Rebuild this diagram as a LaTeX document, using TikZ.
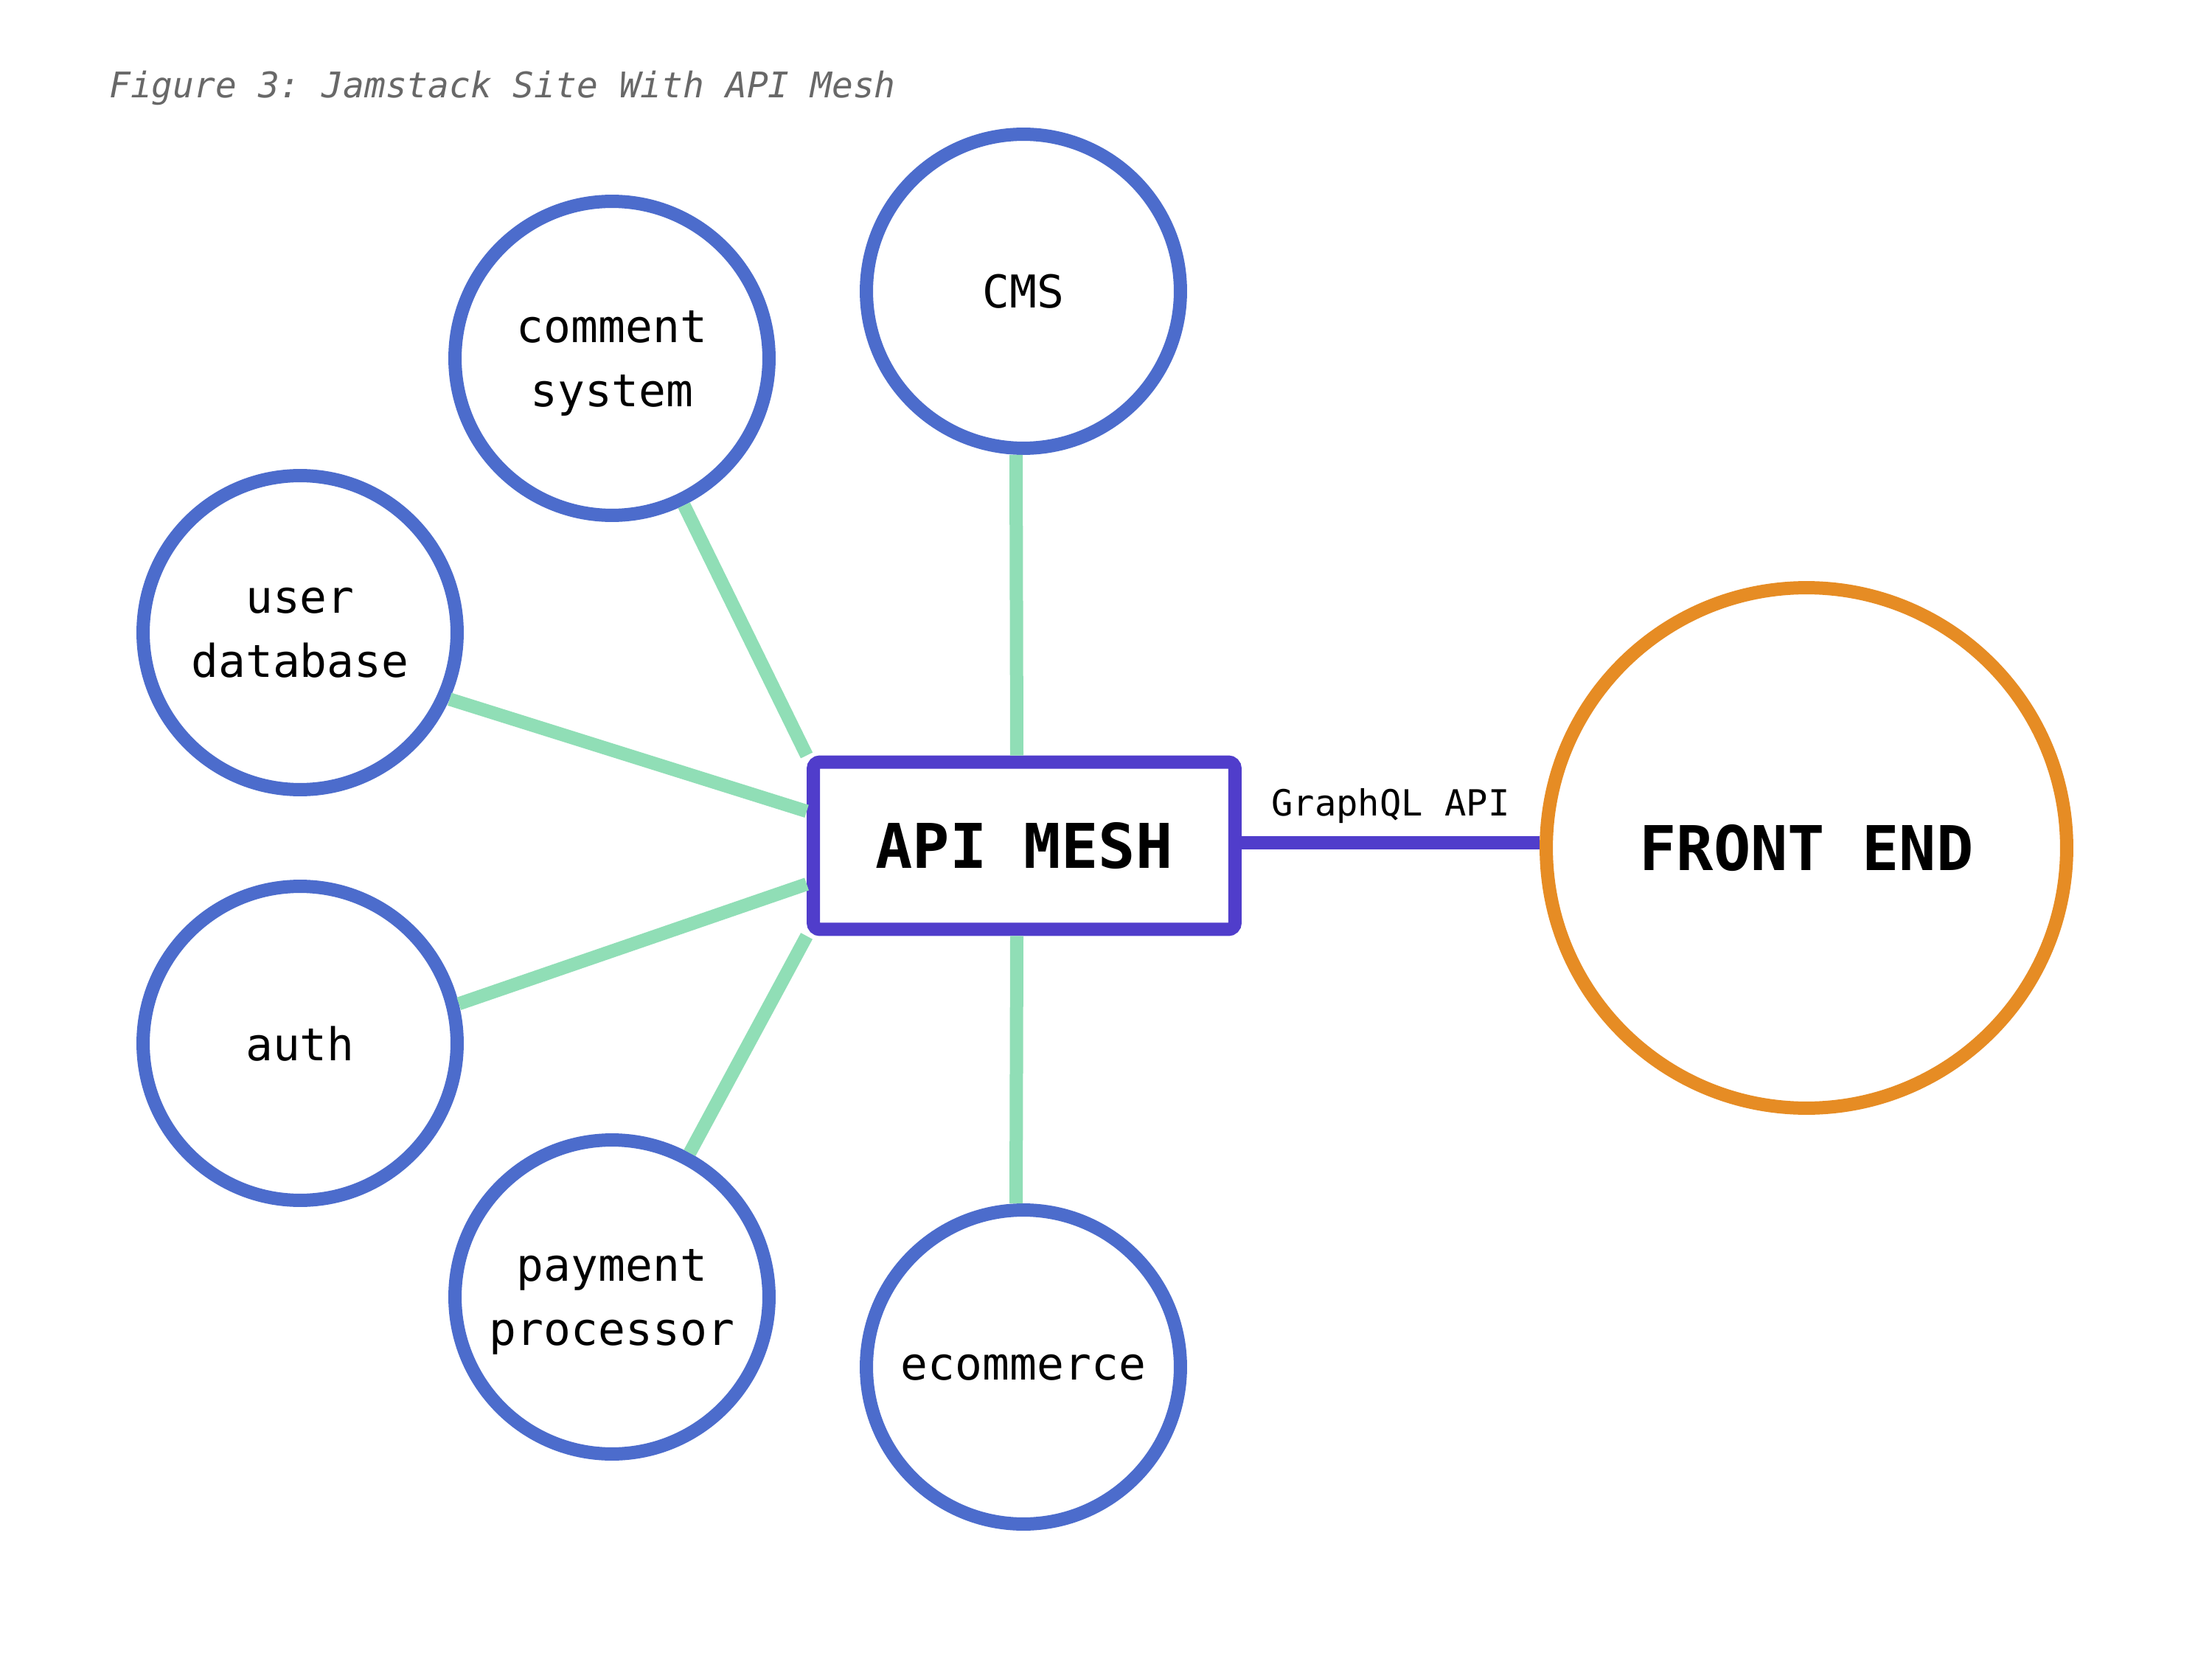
\documentclass[tikz,border=0pt]{standalone}
\usepackage{fontspec}
\setmonofont{DejaVu Sans Mono}
\newcommand{\px}{0.02cm}

\definecolor{nodeblue}{HTML}{4C6CCC}
\definecolor{meshpurple}{HTML}{503DCB}
\definecolor{linkgreen}{HTML}{90DEB6}
\definecolor{frontorange}{HTML}{E68C24}
\definecolor{captiongray}{HTML}{686868}

\begin{document}
\begin{tikzpicture}[service/.style={draw=nodeblue, circle, line width=0.36cm, minimum size=8.52cm, inner sep=0pt, fill=white, align=center, text depth=0pt, font=\ttfamily\fontsize{34.9pt}{49.5pt}\selectfont},
    mesh/.style={draw=meshpurple, rectangle, rounded corners=0.18cm, line width=0.36cm, minimum width=11.44cm, minimum height=4.54cm, inner sep=0pt, fill=white, font=\ttfamily\bfseries\fontsize{47.6pt}{57pt}\selectfont},
    front/.style={draw=frontorange, circle, line width=0.36cm, minimum size=14.12cm, inner sep=0pt, fill=white, font=\ttfamily\bfseries\fontsize{47.6pt}{57pt}\selectfont},
    link/.style={draw=linkgreen, line width=0.36cm},
    api/.style={draw=meshpurple, line width=0.36cm}]
    \useasboundingbox (0,0) rectangle (3000*\px,-2250*\px);

    % Caption
    \node[anchor=base west, inner sep=0pt, text=captiongray, font=\ttfamily\itshape\fontsize{27.25pt}{33pt}\selectfont] (caption) at (148*\px,-133*\px) {Figure 3: Jamstack Site With API Mesh};

    % Services
    \node[service] (cms) at (1388*\px,-395*\px) {CMS};
    \node[service] (comment) at (830*\px,-486*\px) {comment\\system};
    \node[service] (userdb) at (407*\px,-858*\px) {user\\database};
    \node[service] (auth) at (407*\px,-1415*\px) {auth};
    \node[service] (payment) at (830*\px,-1759*\px) {payment\\processor};
    \node[service] (ecommerce) at (1388*\px,-1854*\px) {ecommerce};

    % Mesh and front end
    \node[mesh] (mesh) at (1389*\px,-1147*\px) {API MESH};
    \node[front] (frontend) at (2450*\px,-1150*\px) {FRONT END};

    % Links
    \draw[link] ([xshift=-0.2cm]cms.south) -- ([xshift=-0.2cm]mesh.north);
    \draw[link] (comment) -- (mesh.north west);
    \draw[link] (userdb.-24) -- (mesh.171);
    \draw[link] (auth.14) -- (mesh.190);
    \draw[link] (payment) -- (mesh.south west);
    \draw[link] ([xshift=-0.2cm]ecommerce.north) -- ([xshift=-0.2cm]mesh.south);

    \coordinate (apiend) at ([yshift=0.08cm]mesh.east -| frontend.west);
    \draw[api] ([yshift=0.08cm]mesh.east) -- node[midway, anchor=base, yshift=0.73cm, inner sep=0pt, font=\ttfamily\fontsize{27.8pt}{33pt}\selectfont] (graphql) {GraphQL API} (apiend);

\end{tikzpicture}
\end{document}
